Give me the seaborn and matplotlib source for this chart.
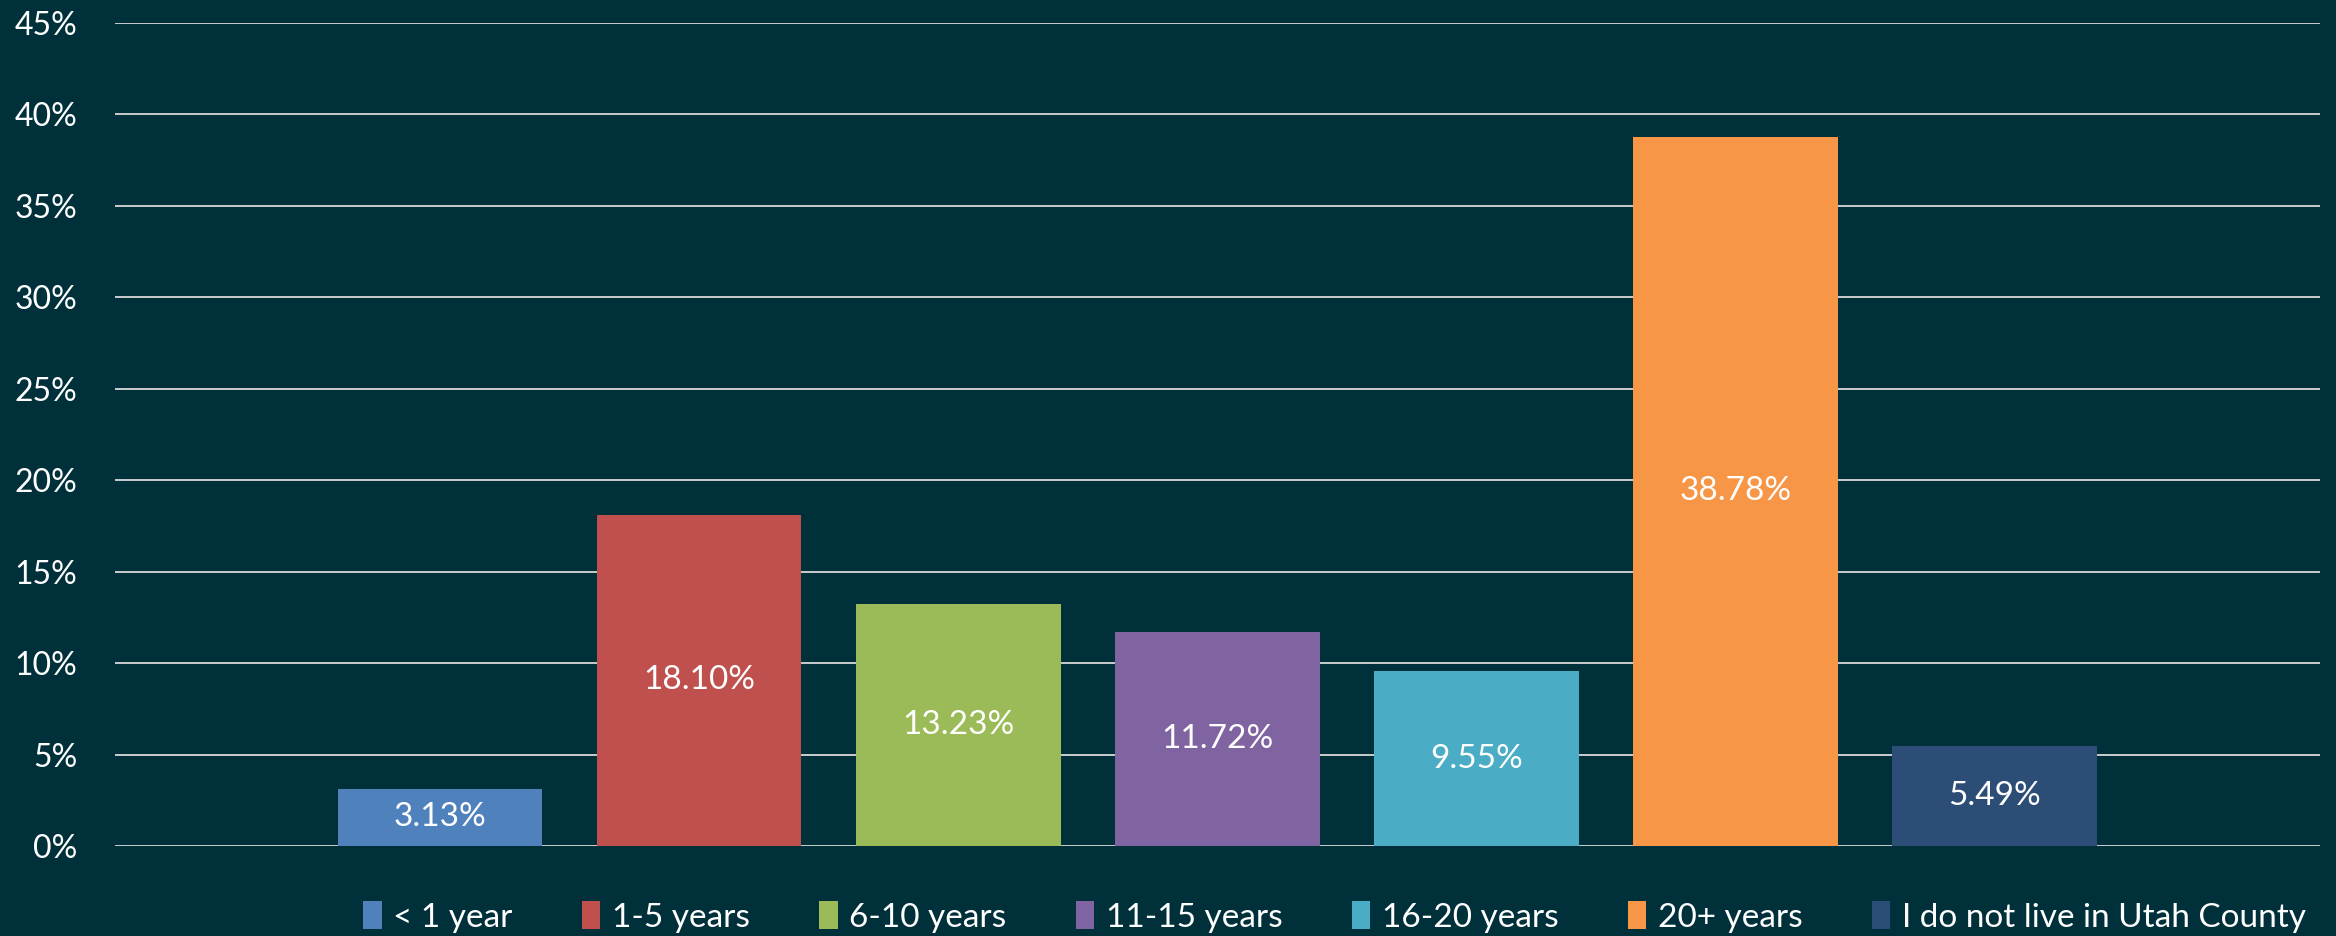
import matplotlib
matplotlib.use("Agg")
import matplotlib.pyplot as plt
import seaborn as sns
import pandas as pd
from matplotlib.ticker import FuncFormatter

categories = ["< 1 year", "1-5 years", "6-10 years", "11-15 years",
              "16-20 years", "20+ years", "I do not live in Utah County"]
values = [3.13, 18.10, 13.23, 11.72, 9.55, 38.78, 5.49]
colors = ["#4F81BD", "#C0504D", "#9BBB59", "#8064A2", "#4BACC6", "#F79646", "#2C4D75"]
yticks = [0, 5, 10, 15, 20, 25, 30, 35, 40, 45]

BG = "#00303A"
sns.set_theme(style="dark")
plt.rcParams['font.family'] = ['Lato', 'DejaVu Sans']

df = pd.DataFrame({"cat": categories, "val": values})

fig = plt.figure(figsize=(23.36, 9.36), dpi=100, facecolor=BG)
ax = fig.add_axes([0.0492, 0.0962, 0.9440, 0.8792])
ax.set_facecolor(BG)

sns.barplot(data=df, x="cat", y="val", hue="cat", palette=colors,
            order=categories, hue_order=categories, width=0.79,
            dodge=False, legend=True, ax=ax, saturation=1, zorder=3,
            edgecolor="none", linewidth=0)

for c in ax.containers:
    ax.bar_label(c, labels=[f"{v:.2f}%" for v in c.datavalues],
                 label_type="center", color="white", fontsize=24)

ax.set_ylim(0, 45)
ax.set_xlim(-1.255, 7.257)
ax.set_yticks(yticks)
ax.yaxis.set_major_formatter(FuncFormatter(lambda v, p: f"{v:.0f}%"))
ax.tick_params(axis="y", length=0, pad=27, labelsize=23, labelcolor="white")
ax.set_xticks([])
ax.set_xlabel("")
ax.set_ylabel("")
ax.grid(axis="y", color="#D9D9D9", linewidth=1.3, zorder=0)
ax.grid(axis="x", visible=False)
ax.set_axisbelow(True)
for s in ax.spines.values():
    s.set_visible(False)

handles, labels = ax.get_legend_handles_labels()
ax.get_legend().remove()
leg = fig.legend(handles, labels, loc="center right", bbox_to_anchor=(0.987, 0.0203),
                 ncol=7, frameon=False, fontsize=24, labelcolor="white",
                 handlelength=0.55, handleheight=0.9, handletextpad=0.35,
                 columnspacing=2.08, borderaxespad=0, borderpad=0)
for h in leg.legend_handles:
    h.set_edgecolor("none")

fig.savefig("out.png", dpi=100, facecolor=BG)
